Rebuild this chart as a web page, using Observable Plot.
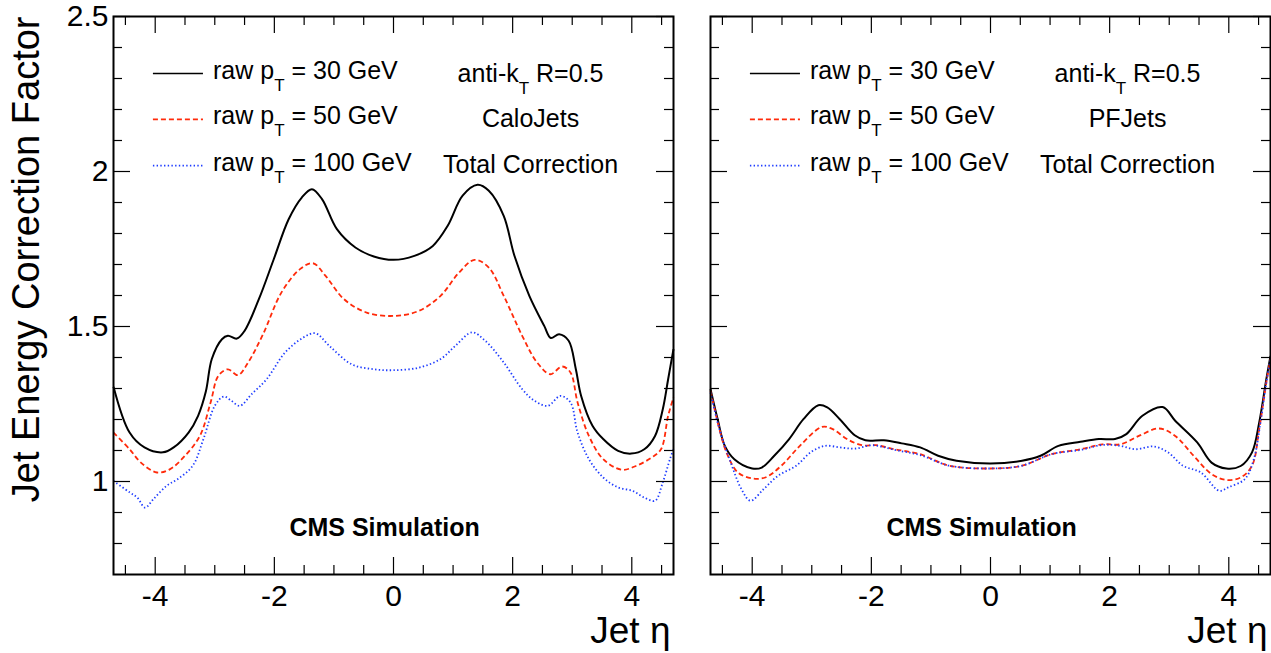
<!DOCTYPE html>
<html>
<head>
<meta charset="utf-8">
<script src="https://cdn.jsdelivr.net/npm/d3@7"></script>
<script src="https://cdn.jsdelivr.net/npm/@observablehq/plot@0.6"></script>
<style>
  html, body { margin: 0; padding: 0; background: white; }
  #chart { position: relative; width: 1271px; height: 653px; overflow: hidden; background: white; }
  #chart svg { position: absolute; top: 0; }
</style>
</head>
<body>
<div id="chart"></div>
<script>
// ---------------- data ----------------
const seriesLabels = ["raw p_T = 30 GeV", "raw p_T = 50 GeV", "raw p_T = 100 GeV"];
const panelNames = ["CaloJets", "PFJets"];
const jetAlgo = "anti-k_T R=0.5";
const corrLevel = "Total Correction";
const cmsLabel = "CMS Simulation";
const xTitle = "Jet η";
const yTitle = "Jet Energy Correction Factor";

// x tick labels / ticks
const majorX = [-4, -2, 0, 2, 4];
const minorX = [-4.5, -3.5, -3, -2.5, -1.5, -1, -0.5, 0.5, 1, 1.5, 2.5, 3, 3.5, 4.5];
const majorY = [1, 1.5, 2, 2.5];
const minorY = [0.8, 0.9, 1.1, 1.2, 1.3, 1.4, 1.6, 1.7, 1.8, 1.9, 2.1, 2.2, 2.3, 2.4];

// CaloJets
const caloEta30 = [-4.7,-4.43,-4.18,-3.87,-3.69,-3.44,-3.28,-3.15,-3.05,-2.88,-2.78,-2.63,-2.50,-2.26,-2.01,-1.76,-1.54,-1.37,-1.20,-0.95,-0.64,-0.33,0,0.35,0.66,0.91,1.16,1.41,1.60,1.85,2.03,2.28,2.53,2.64,2.78,2.94,3.06,3.15,3.34,3.52,3.77,3.99,4.21,4.39,4.52,4.61,4.70];
const calo30 = [1.306,1.158,1.110,1.094,1.110,1.158,1.212,1.290,1.395,1.459,1.470,1.461,1.486,1.588,1.717,1.846,1.916,1.943,1.911,1.814,1.755,1.726,1.715,1.728,1.760,1.825,1.922,1.957,1.938,1.857,1.728,1.599,1.502,1.463,1.475,1.454,1.363,1.276,1.180,1.137,1.099,1.090,1.104,1.147,1.233,1.330,1.427];
const caloEta50 = [-4.7,-4.43,-4.24,-3.97,-3.75,-3.50,-3.25,-3.07,-2.94,-2.78,-2.61,-2.44,-2.19,-1.88,-1.57,-1.35,-1.14,-0.83,-0.45,0,0.42,0.79,1.10,1.36,1.60,1.85,2.16,2.41,2.63,2.83,2.97,3.09,3.28,3.52,3.83,4.08,4.33,4.49,4.61,4.70];
const calo50 = [1.158,1.104,1.061,1.029,1.040,1.083,1.147,1.255,1.341,1.362,1.343,1.384,1.475,1.610,1.685,1.704,1.663,1.588,1.545,1.534,1.550,1.599,1.674,1.715,1.690,1.599,1.470,1.384,1.346,1.371,1.352,1.255,1.147,1.072,1.038,1.051,1.077,1.104,1.212,1.271];
const caloEta100 = [-4.7,-4.43,-4.30,-4.17,-4.03,-3.81,-3.62,-3.37,-3.19,-3.00,-2.85,-2.72,-2.58,-2.38,-2.13,-1.82,-1.51,-1.31,-1.08,-0.70,-0.33,0,0.42,0.79,1.04,1.32,1.54,1.85,2.16,2.37,2.59,2.80,2.97,3.09,3.28,3.52,3.77,4.01,4.21,4.39,4.52,4.64,4.70];
const calo100 = [1.002,0.965,0.948,0.916,0.943,0.986,1.008,1.051,1.137,1.244,1.274,1.260,1.244,1.282,1.330,1.416,1.465,1.478,1.438,1.378,1.362,1.359,1.367,1.395,1.438,1.481,1.454,1.384,1.298,1.260,1.244,1.276,1.255,1.158,1.072,1.013,0.981,0.970,0.948,0.938,0.997,1.072,1.104];

// PFJets
const pfEta30 = [-4.7,-4.58,-4.46,-4.30,-4.0,-3.84,-3.63,-3.38,-3.14,-2.89,-2.74,-2.53,-2.28,-2.10,-1.79,-1.49,-1.18,-0.88,-0.57,0,0.53,0.84,1.14,1.51,1.82,2.09,2.28,2.55,2.89,3.10,3.47,3.71,3.96,4.20,4.39,4.51,4.63,4.70];
const pf30 = [1.298,1.201,1.115,1.072,1.042,1.045,1.083,1.137,1.201,1.246,1.239,1.201,1.149,1.133,1.133,1.123,1.110,1.083,1.067,1.058,1.067,1.083,1.115,1.128,1.137,1.137,1.153,1.212,1.240,1.196,1.126,1.061,1.042,1.050,1.094,1.190,1.330,1.405];
const pfEta50 = [-4.7,-4.55,-4.42,-4.24,-4.0,-3.78,-3.51,-3.20,-2.83,-2.65,-2.41,-2.16,-1.92,-1.61,-1.18,-0.69,0,0.53,1.02,1.51,1.88,2.18,2.49,2.83,3.10,3.41,3.71,3.96,4.20,4.39,4.51,4.63,4.70];
const pf50 = [1.292,1.169,1.088,1.029,1.010,1.013,1.051,1.115,1.176,1.169,1.137,1.117,1.117,1.104,1.088,1.051,1.042,1.051,1.088,1.104,1.120,1.120,1.147,1.171,1.147,1.083,1.024,1.005,1.013,1.051,1.169,1.319,1.395];
const pfEta100 = [-4.7,-4.55,-4.36,-4.18,-4.03,-3.81,-3.57,-3.26,-3.02,-2.78,-2.53,-2.28,-1.98,-1.61,-1.18,-0.69,0,0.53,1.02,1.51,1.88,2.18,2.43,2.74,2.98,3.23,3.53,3.84,3.99,4.27,4.42,4.54,4.63,4.70];
const pf100 = [1.287,1.169,1.061,0.975,0.938,0.975,1.018,1.051,1.094,1.115,1.110,1.106,1.117,1.102,1.085,1.051,1.042,1.051,1.088,1.102,1.118,1.115,1.104,1.113,1.094,1.051,1.029,0.970,0.981,1.008,1.072,1.201,1.319,1.395];

// ---------------- styles / layout ----------------
const FONT = "'Liberation Sans', Arial, Helvetica, sans-serif";
const lineStyles = [
  {stroke: "#000000", strokeWidth: 2, strokeDasharray: null},
  {stroke: "#ff2a0a", strokeWidth: 1.8, strokeDasharray: "5,3"},
  {stroke: "#1f3dff", strokeWidth: 1.8, strokeDasharray: "1.4,2.3"}
];
const XDOM = [-4.7, 4.7], YDOM = [0.7, 2.5];
const H = 653, MT = 16, MB = 79;
const FH = H - MT - MB; // frame height
const FW = 560;
// legend layout (in data units)
const LEG = {x1: -4.03, x2: -3.19, tx: -3.03, rows: [2.316, 2.168, 2.019]};
const ANN = {x: 2.3, rows: [2.29, 2.142, 1.994]};
const CMS = {x: -0.15, y: 0.85};
const TXT = 25;

function toRows(eta, vals) { return eta.map((e, i) => ({eta: e, v: vals[i]})); }

function frameTicks() {
  const s = {stroke: "black", strokeWidth: 1.2};
  return [
    Plot.tickX(majorX, {x: d => d, insetTop: FH - 17, ...s}),
    Plot.tickX(majorX, {x: d => d, insetBottom: FH - 17, ...s}),
    Plot.tickX(minorX, {x: d => d, insetTop: FH - 9, ...s}),
    Plot.tickX(minorX, {x: d => d, insetBottom: FH - 9, ...s}),
    Plot.tickY(majorY, {y: d => d, insetRight: FW - 17, ...s}),
    Plot.tickY(majorY, {y: d => d, insetLeft: FW - 17, ...s}),
    Plot.tickY(minorY, {y: d => d, insetRight: FW - 9, ...s}),
    Plot.tickY(minorY, {y: d => d, insetLeft: FW - 9, ...s})
  ];
}

function panel({name, series, showY, width, marginLeft, marginRight}) {
  const marks = [];
  series.forEach((rows, i) => {
    marks.push(Plot.line(rows, {x: "eta", y: "v", curve: "catmull-rom", ...lineStyles[i], strokeLinecap: "butt"}));
  });
  marks.push(Plot.frame({stroke: "black", strokeWidth: 2}));
  marks.push(...frameTicks());
  marks.push(Plot.axisX({anchor: "bottom", ticks: majorX, tickSize: 0, tickPadding: 10, fontSize: 30, tickFormat: d => `${d}`, label: null}));
  if (showY) {
    marks.push(Plot.axisY({anchor: "left", ticks: majorY, tickSize: 0, tickPadding: 5, fontSize: 30, tickFormat: d => `${d}`, label: null}));
    marks.push(Plot.text([yTitle], {frameAnchor: "top-left", rotate: -90, textAnchor: "end", lineAnchor: "bottom", dx: -75, dy: 0, fontSize: 38}));
  }
  marks.push(Plot.text([xTitle], {frameAnchor: "bottom-right", textAnchor: "end", lineAnchor: "bottom", dx: -3, dy: 68, fontSize: 37}));
  // legend
  seriesLabels.forEach((lab, i) => {
    const row = [{y: LEG.rows[i], label: lab}];
    marks.push(Plot.ruleY(row, {y: "y", x1: () => LEG.x1, x2: () => LEG.x2, ...lineStyles[i], strokeWidth: 1.6}));
    marks.push(Plot.text(row, {x: () => LEG.tx, y: "y", text: "label", textAnchor: "start", lineAnchor: "bottom", dy: 5, fontSize: TXT}));
  });
  [jetAlgo, name, corrLevel].forEach((t, i) => {
    marks.push(Plot.text([{t, y: ANN.rows[i]}], {x: () => ANN.x, y: "y", text: "t", textAnchor: "middle", lineAnchor: "bottom", fontSize: TXT}));
  });
  marks.push(Plot.text([cmsLabel], {x: () => CMS.x, y: () => CMS.y, textAnchor: "middle", lineAnchor: "middle", fontSize: TXT, fontWeight: "bold"}));

  return Plot.plot({
    width, height: H,
    marginLeft, marginRight, marginTop: MT, marginBottom: MB,
    x: {domain: XDOM, axis: null},
    y: {domain: YDOM, axis: null},
    style: {fontFamily: FONT, fontSize: "24px", color: "black", background: "white", overflow: "visible"},
    marks
  });
}

function subscripts(svg) {
  svg.querySelectorAll("text").forEach(t => {
    if (t.children.length) return;
    const s = t.textContent;
    if (!s.includes("_")) return;
    const parts = s.split(/_(\w)/);
    t.textContent = "";
    parts.forEach((p, i) => {
      const ts = document.createElementNS("http://www.w3.org/2000/svg", "tspan");
      ts.textContent = p;
      if (i % 2 === 1) { ts.setAttribute("dy", "12"); ts.setAttribute("font-size", "17"); }
      else if (i > 0) { ts.setAttribute("dy", "-12"); }
      t.appendChild(ts);
    });
  });
}

const chart = document.getElementById("chart");
const left = panel({
  name: panelNames[0],
  series: [toRows(caloEta30, calo30), toRows(caloEta50, calo50), toRows(caloEta100, calo100)],
  showY: true, width: 690, marginLeft: 113, marginRight: 17
});
left.style.left = "0px";
const right = panel({
  name: panelNames[1],
  series: [toRows(pfEta30, pf30), toRows(pfEta50, pf50), toRows(pfEta100, pf100)],
  showY: false, width: 581, marginLeft: 20, marginRight: 1
});
right.style.left = "690px";
subscripts(left); subscripts(right);
chart.appendChild(left);
chart.appendChild(right);
</script>
</body>
</html>
